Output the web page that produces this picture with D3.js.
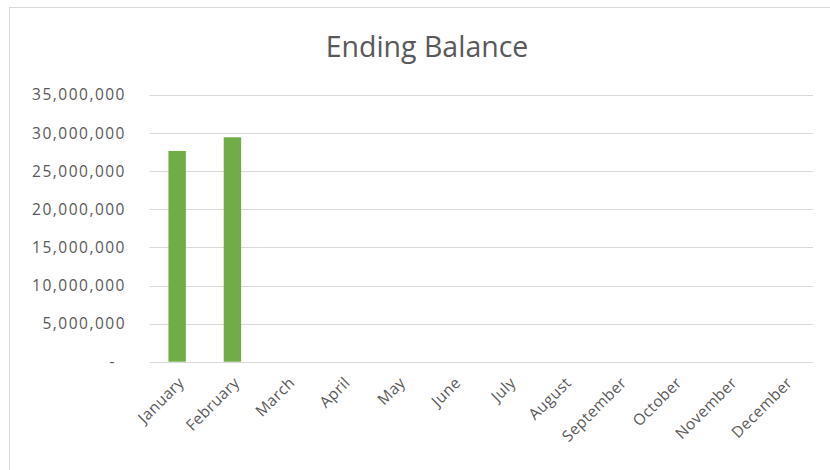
<!DOCTYPE html>
<html><head><meta charset="utf-8">
<script src="https://cdn.jsdelivr.net/npm/d3@7"></script>
<style>
body{margin:0;background:#fff;}
svg{display:block;font-family:"Open Sans",sans-serif;}
</style></head><body>
<svg id="c" width="830" height="470"></svg>
<script>
const months = ["January","February","March","April","May","June","July","August","September","October","November","December"];
const balance = [27650000, 29450000, null, null, null, null, null, null, null, null, null, null];
const yTicks = [0, 5000000, 10000000, 15000000, 20000000, 25000000, 30000000, 35000000];
const title = "Ending Balance";

const svg = d3.select("#c");
const W = 830, H = 470;
const m = {left:149.5, right:813, top:95, bottom:361.7};

// chart border
svg.append("rect").attr("x",9.5).attr("y",7.5).attr("width",W).attr("height",H)
  .attr("fill","#fff").attr("stroke","#d9d9d9").attr("stroke-width",1);

const x = d3.scaleBand().domain(months).range([m.left, m.right]).paddingInner(0.685).paddingOuter(0.3425);
const y = d3.scaleLinear().domain([0, 35000000]).range([m.bottom, m.top]);

// gridlines
svg.append("g").selectAll("line").data(yTicks).join("line")
  .attr("x1", m.left).attr("x2", m.right)
  .attr("y1", d=>Math.round(y(d))+0.5).attr("y2", d=>Math.round(y(d))+0.5)
  .attr("stroke","#d9d9d9").attr("stroke-width",1);

// y axis labels
const fmt = d3.format(",");
const yAxis = d3.axisLeft(y).tickValues(yTicks).tickSize(0).tickPadding(0)
  .tickFormat(d => d === 0 ? "-" : fmt(d));
const gy = svg.append("g").attr("transform",`translate(${m.left-23.5},0)`).call(yAxis);
gy.select(".domain").remove();
gy.selectAll("text").attr("fill","#595959").attr("font-size","15.5px")
  .attr("letter-spacing","1.5px").attr("font-family","'Open Sans',sans-serif");
gy.selectAll(".tick").filter(d=>d===0).select("text").attr("dx","-10");

// bars
svg.append("g").selectAll("rect").data(months.map((mm,i)=>({m:mm,v:balance[i]})).filter(d=>d.v!=null))
  .join("rect")
  .attr("x", d=>x(d.m)).attr("width", x.bandwidth())
  .attr("y", d=>y(d.v)).attr("height", d=>y(0)-y(d.v))
  .attr("fill","#70ad47");

// x axis
const xAxis = d3.axisBottom(x).tickSize(0).tickPadding(0);
const gx = svg.append("g").attr("transform",`translate(0,${m.bottom})`).call(xAxis);
gx.select(".domain").remove();
gx.selectAll("text")
  .attr("fill","#595959").attr("font-size","15.5px").attr("letter-spacing","0.4px").attr("font-family","'Open Sans',sans-serif")
  .attr("text-anchor","end").attr("dy",null).attr("y",0)
  .attr("transform","translate(8,22) rotate(-45)");

// title
svg.append("text").attr("x", 427).attr("y", 57).attr("text-anchor","middle")
  .attr("fill","#595959").attr("font-size","28.5px").attr("font-family","'Open Sans',sans-serif").attr("font-weight",400)
  .text(title);
</script>
</body></html>
